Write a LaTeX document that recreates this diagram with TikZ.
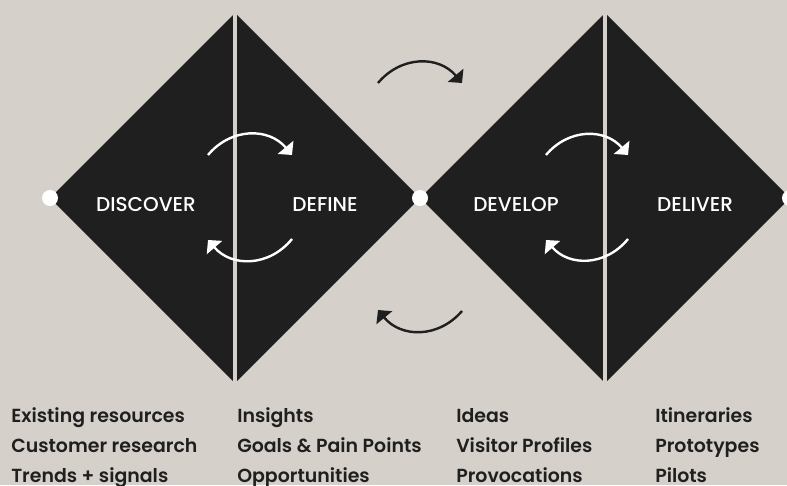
\documentclass[tikz,border=0pt]{standalone}
\usepackage{fontspec}
\setmainfont{Poppins}
\newfontfamily\medfont{Poppins Medium}
\newfontfamily\semifont{Poppins SemiBold}
\usetikzlibrary{arrows.meta}

\definecolor{paper}{RGB}{213,208,202}
\definecolor{ink}{RGB}{31,31,31}

\begin{document}
\begin{tikzpicture}[
    x=0.75pt, y=-0.75pt,
    phase/.style={
        anchor=base, inner sep=0pt, text=white,
        font=\medfont\fontsize{15}{15}\selectfont
    },
    item/.style={
        anchor=base west, inner sep=0pt, text=ink,
        font=\semifont\fontsize{14.2}{14.2}\selectfont
    },
    joint/.style={circle, fill=white, minimum size=12pt, inner sep=0pt},
    split/.style={paper, line width=3pt},
    whitearc/.style={
        white, line width=1.8pt,
        -{Triangle[length=7.5pt,width=15pt]},
        bend left=50, looseness=1.1
    },
    blackarc/.style={whitearc, ink}
]

% ===== PAGE =====
\fill[paper] (0,0) rectangle (787,485);
\useasboundingbox (0,0) rectangle (787,485);

% ===== DIAMONDS =====
\coordinate (start) at (50,198);
\coordinate (mid)   at (420,198);
\coordinate (end)   at (790,198);

\fill[ink] (start) -- (235,13) -- (mid) -- (235,383) -- cycle;
\fill[ink] (mid) -- (605,13) -- (end) -- (605,383) -- cycle;

% halves of each diamond
\draw[split] (235,13) -- (235,383);
\draw[split] (605,13) -- (605,383);

\node[joint] (j0) at (start) {};
\node[joint] (j1) at (mid) {};
\node[joint] (j2) at (end) {};

% ===== PHASES =====
\node[phase] (discover) at (146,211) {DISCOVER};
\node[phase] (define)   at (325,211) {DEFINE};
\node[phase] (develop)  at (516,211) {DEVELOP};
\node[phase] (deliver)  at (695,211) {DELIVER};

% ===== ITERATION ARROWS =====
\coordinate (a1) at (208,155);
\coordinate (a2) at (292,155);
\coordinate (a3) at (292,239);
\coordinate (a4) at (208,240);
\draw[whitearc] (a1) to (a2);
\draw[whitearc] (a3) to (a4);

\coordinate (b1) at (546,155);
\coordinate (b2) at (628,155);
\coordinate (b3) at (628,239);
\coordinate (b4) at (546,240);
\draw[whitearc] (b1) to (b2);
\draw[whitearc] (b3) to (b4);

\coordinate (c1) at (378,83);
\coordinate (c2) at (462,83);
\coordinate (c3) at (462,311);
\coordinate (c4) at (378,310);
\draw[blackarc] (c1) to (c2);
\draw[blackarc] (c3) to (c4);

% ===== OUTPUTS =====
\node[item] (disc1) at (11,422) {Existing resources};
\node[item] (disc2) at (11,452.5) {Customer research};
\node[item] (disc3) at (11,482.5) {Trends + signals};

\node[item] (def1) at (237,422) {Insights};
\node[item] (def2) at (237,452.5) {Goals \& Pain Points};
\node[item] (def3) at (237,482.5) {Opportunities};

\node[item] (dev1) at (456,422) {Ideas};
\node[item] (dev2) at (456,452.5) {Visitor Profiles};
\node[item] (dev3) at (456,482.5) {Provocations};

\node[item] (del1) at (655,422) {Itineraries};
\node[item] (del2) at (655,452.5) {Prototypes};
\node[item] (del3) at (655,482.5) {Pilots};

\end{tikzpicture}
\end{document}
